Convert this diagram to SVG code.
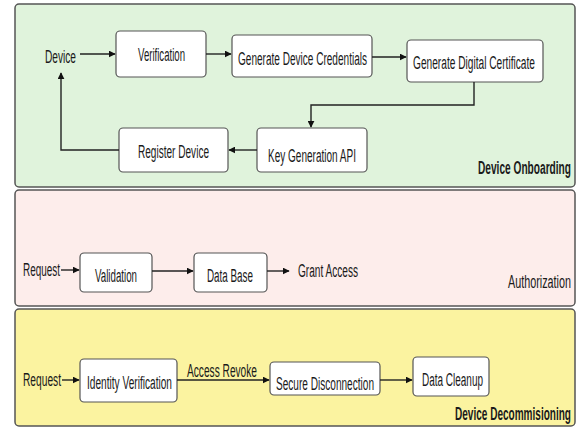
<svg xmlns="http://www.w3.org/2000/svg" width="578" height="427" viewBox="0 0 578 427">
<style>
.panel{stroke:#555;stroke-width:1.5}
.box{fill:#fff;stroke:#555;stroke-width:1.2}
.t{font-family:"Liberation Sans Narrow","Liberation Sans",Arial,sans-serif;font-size:18px;fill:#1a1a1a;dominant-baseline:central}
.b{font-weight:bold}
.c{fill:none;stroke:#222;stroke-width:1.4}
</style>
<defs>
<marker id="ah" viewBox="0 0 10 10" refX="9" refY="5" markerWidth="7" markerHeight="7" markerUnits="userSpaceOnUse" orient="auto">
<path d="M0,0 L10,5 L0,10 z" fill="#111"/>
</marker>
</defs>
<rect width="578" height="427" fill="#fff"/>
<g id="panel-onboarding">
<rect class="panel" x="15" y="4" width="560" height="183" rx="4" fill="#e0f3dc"/>
<text class="t b" x="478" y="168" textLength="93" lengthAdjust="spacingAndGlyphs">Device Onboarding</text>
</g>
<g id="panel-authorization">
<rect class="panel" x="15" y="190" width="560" height="116" rx="4" fill="#fdedeb"/>
<text class="t" x="508" y="282" textLength="63" lengthAdjust="spacingAndGlyphs">Authorization</text>
</g>
<g id="panel-decommissioning">
<rect class="panel" x="15" y="309" width="560" height="117" rx="4" fill="#fbf3a0"/>
<text class="t b" x="455" y="414" textLength="116" lengthAdjust="spacingAndGlyphs">Device Decommisioning</text>
</g>

<g id="device"><text class="t" x="45" y="57" textLength="31" lengthAdjust="spacingAndGlyphs">Device</text></g>
<g id="verification"><rect class="box" x="116" y="31" width="90" height="46" rx="4"/><text class="t" x="138" y="55" textLength="47" lengthAdjust="spacingAndGlyphs">Verification</text></g>
<g id="gen-cred"><rect class="box" x="232" y="35" width="140" height="42" rx="4"/><text class="t" x="238" y="59" textLength="129" lengthAdjust="spacingAndGlyphs">Generate Device Credentials</text></g>
<g id="gen-cert"><rect class="box" x="407" y="40" width="136" height="42" rx="4"/><text class="t" x="413" y="63" textLength="122" lengthAdjust="spacingAndGlyphs">Generate Digital Certificate</text></g>
<g id="key-gen"><rect class="box" x="257" y="128" width="110" height="44" rx="4"/><text class="t" x="268" y="156" textLength="88" lengthAdjust="spacingAndGlyphs">Key Generation API</text></g>
<g id="register"><rect class="box" x="119" y="128" width="109" height="44" rx="4"/><text class="t" x="138" y="152" textLength="71" lengthAdjust="spacingAndGlyphs">Register Device</text></g>

<g id="request-1"><text class="t" x="23" y="270" textLength="37" lengthAdjust="spacingAndGlyphs">Request</text></g>
<g id="validation"><rect class="box" x="80" y="253" width="72" height="39" rx="4"/><text class="t" x="95" y="276" textLength="42" lengthAdjust="spacingAndGlyphs">Validation</text></g>
<g id="database"><rect class="box" x="194" y="253" width="73" height="39" rx="4"/><text class="t" x="207" y="276" textLength="46" lengthAdjust="spacingAndGlyphs">Data Base</text></g>
<g id="grant"><text class="t" x="298" y="271" textLength="60" lengthAdjust="spacingAndGlyphs">Grant Access</text></g>

<g id="request-2"><text class="t" x="23" y="380" textLength="38" lengthAdjust="spacingAndGlyphs">Request</text></g>
<g id="identity"><rect class="box" x="80" y="359" width="97" height="43" rx="4"/><text class="t" x="87" y="383" textLength="85" lengthAdjust="spacingAndGlyphs">Identity Verification</text></g>
<g id="secure"><rect class="box" x="270" y="362" width="110" height="33" rx="4"/><text class="t" x="276" y="384" textLength="98" lengthAdjust="spacingAndGlyphs">Secure Disconnection</text></g>
<g id="cleanup"><rect class="box" x="413" y="357" width="76" height="39" rx="4"/><text class="t" x="422" y="380" textLength="61" lengthAdjust="spacingAndGlyphs">Data Cleanup</text></g>

<g id="connectors">
<path class="c" d="M80,54 H115" marker-end="url(#ah)"/>
<path class="c" d="M206,54 H231" marker-end="url(#ah)"/>
<path class="c" d="M372,57 H406" marker-end="url(#ah)"/>
<path class="c" d="M474,82 V105 H311 V127" marker-end="url(#ah)"/>
<path class="c" d="M257,150 H229" marker-end="url(#ah)"/>
<path class="c" d="M119,150 H61 V73" marker-end="url(#ah)"/>
<path class="c" d="M61,270 H79" marker-end="url(#ah)"/>
<path class="c" d="M152,271 H193" marker-end="url(#ah)"/>
<path class="c" d="M267,271 H289" marker-end="url(#ah)"/>
<path class="c" d="M62,380 H79" marker-end="url(#ah)"/>
<path class="c" d="M177,380 H269" marker-end="url(#ah)"/>
<text class="t" x="187" y="371" textLength="70" lengthAdjust="spacingAndGlyphs">Access Revoke</text>
<path class="c" d="M380,380 H412" marker-end="url(#ah)"/>
</g>
</svg>
